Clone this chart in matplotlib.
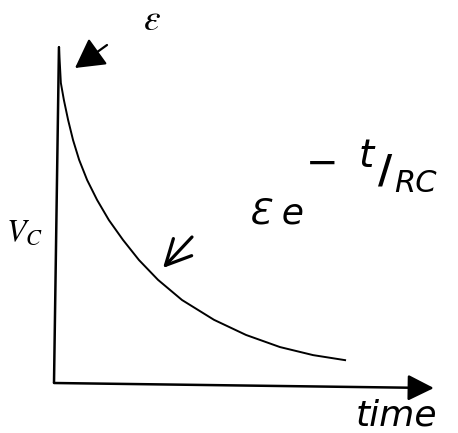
import numpy as np
import matplotlib
matplotlib.use('Agg')
import matplotlib.pyplot as plt

plt.rcParams['mathtext.fontset'] = 'stix'

# decay curve (t in axis-length units, V in units of emf)
t_curve = [0.013, 0.018, 0.026, 0.037, 0.050, 0.066, 0.087, 0.113, 0.144,
           0.181, 0.223, 0.273, 0.336, 0.420, 0.504, 0.593, 0.680, 0.764]
v_curve = [1.000, 0.893, 0.842, 0.783, 0.723, 0.664, 0.604, 0.545, 0.485,
           0.426, 0.366, 0.307, 0.247, 0.188, 0.143, 0.107, 0.083, 0.068]

# hand drawn axes (slightly tilted)
yaxis_t = [0.0, 0.013]
yaxis_v = [0.0, 1.0]
xaxis_end = (0.997, -0.015)

fig = plt.figure(figsize=(4.58, 4.33), dpi=100)
fig.patch.set_facecolor('white')

W, H = 458, 433
ax = fig.add_axes([54 / W, (H - 383) / H, 381 / W, 336 / H])
ax.set_xlim(0, 1)
ax.set_ylim(0, 1)
ax.axis('off')

ax.plot(yaxis_t, yaxis_v, color='black', lw=1.8, solid_capstyle='butt', clip_on=False)
ax.annotate('', xy=xaxis_end, xytext=(0, 0),
            arrowprops=dict(arrowstyle='-|>,head_length=0.8,head_width=0.4',
                            lw=1.8, color='black', shrinkA=0, shrinkB=0,
                            mutation_scale=20),
            annotation_clip=False)
ax.plot(t_curve, v_curve, color='black', lw=1.4, solid_joinstyle='round', clip_on=False)

# overlay in pixel coords for the labels
ov = fig.add_axes([0, 0, 1, 1], facecolor='none')
ov.set_xlim(0, W)
ov.set_ylim(H, 0)
ov.axis('off')

# arrow pointing at the start value
ov.annotate('', xy=(75, 68), xytext=(107, 45),
            arrowprops=dict(arrowstyle='-|>,head_length=0.9,head_width=0.5',
                            lw=1.6, color='black', shrinkA=0, shrinkB=0,
                            mutation_scale=20))
ov.text(152, 20, r'$\varepsilon$', fontsize=27, ha='center', va='center')
ov.text(24, 232, r'$V_C$', fontsize=23, ha='center', va='center')

# handwritten bits
ov.annotate('', xy=(163, 268), xytext=(192, 237),
            arrowprops=dict(arrowstyle='->,head_length=0.9,head_width=0.45',
                            lw=2.3, color='black', shrinkA=0, shrinkB=0,
                            mutation_scale=20))
hand = dict(family='DejaVu Sans', style='italic', color='black')
ov.text(276, 214, '\u0190 e', fontsize=26, ha='center', va='center', **hand)
ov.text(322, 164, '\u2212', fontsize=28, ha='center', va='center', **hand)
ov.text(366, 156, 't', fontsize=28, ha='center', va='center', **hand)
ov.text(385, 172, '/', fontsize=28, ha='center', va='center', fontweight='bold',
        family='DejaVu Sans', color='black')
ov.text(415, 183, 'RC', fontsize=22, ha='center', va='center', **hand)
ov.text(396, 432, 'time', fontsize=26, ha='center', va='bottom', **hand)

plt.savefig('out.png', dpi=100, facecolor='white')
